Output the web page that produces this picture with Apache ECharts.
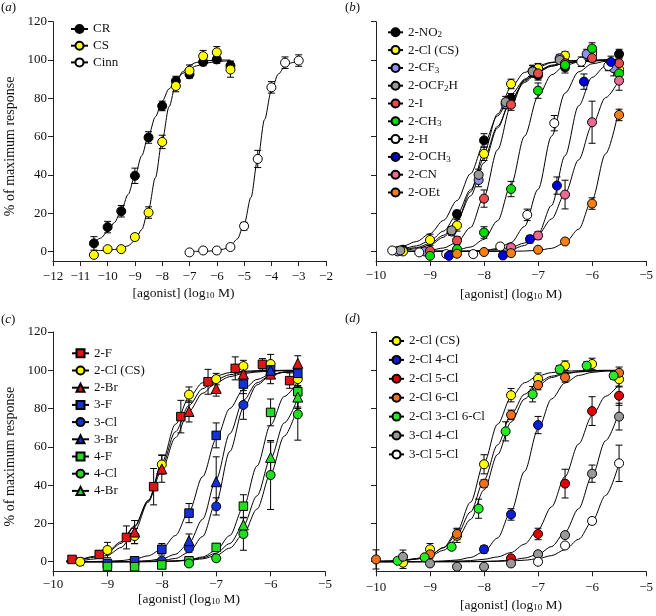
<!DOCTYPE html>
<html>
<head>
<meta charset="utf-8">
<script src="https://cdn.jsdelivr.net/npm/echarts@6/dist/echarts.min.js"></script>
<style>
  html, body { margin: 0; padding: 0; background: #fff; }
  #chart { width: 656px; height: 616px; }
</style>
</head>
<body>
<div id="chart"></div>
<script>
const FONT = '"Liberation Serif", "Times New Roman", serif';

// ---------- panel (a) ----------
const aX = [-10.5, -10, -9.5, -9, -8.5, -8, -7.5, -7, -6.5, -6, -5.5];
const crY = [4.2, 12.7, 21, 39.5, 59.5, 76, 89, 92.5, 99, 100.3, 97];
const crErr = [3.5, 3, 3, 4, 3, 2.5, 2.5, 2, 2, 2, 2.5];
const csY = [-1.8, 1.2, 1.2, 7.5, 20.3, 57.2, 86.4, 94.4, 102, 104, 95];
const csErr = [1, 1, 1, 1.5, 3, 3.5, 3, 3, 3, 3, 4];
const cinnX = [-7, -6.5, -6, -5.5, -5, -4.5, -4, -3.5, -3];
const cinnY = [-0.5, 0.5, 0.5, 2.3, 13.2, 48.3, 85.7, 98.6, 99.7];
const cinnErr = [1, 1, 1, 1, 2, 4.5, 3, 3, 3];

// fitted curves
const aFitX = [-10.5, -10.25, -10, -9.75, -9.5, -9.25, -9, -8.75, -8.5, -8.25, -8, -7.75, -7.5, -7.25, -7, -6.75, -6.5, -6.25, -6, -5.75, -5.5];
const crFit = [4.6, 7.0, 10.4, 15.1, 21.5, 29.7, 39.4, 50, 60.6, 70.3, 78.5, 84.9, 89.6, 93.0, 95.4, 96.9, 98.0, 98.7, 99.1, 99.4, 99.6];
const csFit = [0.5, 0.5, 0.7, 1.0, 1.6, 2.9, 5.7, 11.4, 22, 38.5, 58, 75.5, 87.4, 93.9, 97.2, 98.7, 99.4, 99.7, 99.9, 100, 100];
const cinnFitX = [-7, -6.75, -6.5, -6.25, -6, -5.75, -5.5, -5.25, -5, -4.75, -4.5, -4.25, -4, -3.75, -3.5, -3.25, -3];
const cinnFit = [0, 0.05, 0.1, 0.2, 0.5, 1.2, 2.9, 6.5, 14.2, 28.2, 48.3, 68.9, 84, 92.6, 96.7, 98.6, 99.4];

// ---------- panel (b) ----------
const bX = [-9.5, -9, -8.5, -8, -7.5, -7, -6.5, -6, -5.5];
const no2X = [-9.5, -8.5, -8, -7.5, -7, -6.5, -6, -5.5];
const no2Y = [0.9, 19.5, 58, 80, 92, 96.2, 104, 103.1];
const no2Err = [1.5, 2, 3.5, 2.5, 2.5, 3, 3, 2.5];
const clY = [0, 6, 13.6, 51, 87.5, 95.7, 102.3, 103.1, 95.1];
const clErr = [1, 3, 3, 3.5, 2.5, 2.5, 2, 3, 3];
const cf3X = [-9.6, -9.1, -8.6, -8.1, -7.6, -7.1, -6.6, -6.1, -5.6];
const cf3Y = [0, 0, 10.4, 37.3, 77, 94.3, 100.9, 103.1, 95.7];
const cf3Err = [1, 1, 2, 3.5, 2.5, 3, 2, 2.5, 4];
const ocf2hX = [-9.55, -8.6, -8.1, -7.6, -7.1, -6.6];
const ocf2hY = [0.5, 11, 40, 78, 94, 100];
const ocf2hErr = [1, 2, 3, 3, 3, 2];
const iX = [-9, -8.5, -8, -7.5, -7, -6.5, -6, -5.5];
const iY = [0.3, 5.7, 27.6, 76.7, 93, 98.3, 101, 98.3];
const iErr = [1, 2, 4.5, 3, 2.5, 2, 2, 3];
const ch3X = [-9, -8.5, -8, -7.5, -7, -6.5, -6, -5.5];
const ch3Y = [-2.3, 1.2, 9.9, 32.6, 84, 97.4, 106, 93];
const ch3Err = [1, 1.5, 3, 4, 4, 3, 3, 3];
const hX = [-9.7, -9.2, -8.7, -8.2, -7.7, -7.2, -6.7, -6.2, -5.7];
const hY = [0.5, -0.5, -1.4, -1.4, 2.6, 19.1, 67, 99.1, 96.9];
const hErr = [1, 1, 1, 1, 1.5, 3, 4, 2.5, 2.5];
const och3X = [-8.65, -7.65, -7.15, -6.65, -6.15, -5.65];
const och3Y = [-2.3, -2.1, 6.4, 34.4, 88.7, 99];
const och3Err = [1, 1, 2, 4.5, 4, 3];
const cnX = [-7.5, -7, -6.5, -6, -5.5];
const cnY = [2.1, 8.3, 29.7, 67.5, 89.2];
const cnErr = [1.5, 2, 7.5, 11, 5];
const oetX = [-8.5, -8, -7.5, -7, -6.5, -6, -5.5];
const oetY = [-1.2, -0.3, -0.9, 0.9, 5.2, 25, 71.3];
const oetErr = [0.5, 1, 1, 1, 1, 3, 3];

const bFitX = [-9.75, -9.5, -9.25, -9, -8.75, -8.5, -8.25, -8, -7.75, -7.5, -7.25, -7, -6.75, -6.5, -6.25, -6, -5.75, -5.5];
const no2Fit = [1.5, 2.8, 5.2, 9.3, 16.2, 26.6, 40.6, 56.3, 70.8, 82.0, 89.6, 94.2, 96.8, 98.3, 99.1, 99.5, 99.7, 99.9];
const clFit = [0.3, 0.6, 1.4, 3.3, 7.4, 16.0, 31.1, 51.7, 71.8, 85.8, 93.5, 97.1, 98.8, 99.5, 99.8, 99.9, 100, 100];
const cf3Fit = [0.5, 1.0, 2.0, 4.1, 8.4, 16.2, 29.0, 46.3, 64.5, 79.4, 89.0, 94.5, 97.3, 98.7, 99.4, 99.7, 99.9, 99.9];
const ocf2hFit = [0.7, 1.5, 2.9, 5.6, 10.6, 19.2, 32.2, 48.6, 65.4, 79.0, 88.3, 93.7, 96.8, 98.4, 99.2, 99.6, 99.8, 99.9];
const iFit = [0, 0.1, 0.2, 0.6, 1.8, 4.8, 12.5, 28.7, 53.1, 76.2, 90.0, 96.2, 98.6, 99.5, 99.8, 99.9, 100, 100];
const ch3Fit = [0, 0, 0, 0.1, 0.3, 0.8, 2.3, 6.3, 16.0, 34.9, 60.2, 81.0, 92.3, 97.1, 99.0, 99.6, 99.9, 100];
const hFit = [0, 0, 0, 0, 0, 0.1, 0.2, 0.5, 1.5, 4.6, 13.1, 32.4, 60.2, 82.7, 93.8, 98.0, 99.3, 99.8];
const och3Fit = [0, 0, 0, 0, 0, 0, 0, 0.1, 0.3, 1.0, 3.1, 9.1, 24.0, 50, 76.0, 90.9, 96.9, 99.0];
const cnFit = [0, 0, 0, 0, 0.1, 0.1, 0.2, 0.5, 1.0, 2.1, 4.4, 8.8, 17.0, 30.2, 47.8, 65.9, 80.3, 89.6];
const oetFit = [0, 0, 0, 0, 0, 0, 0, 0, 0, 0.1, 0.2, 0.6, 1.6, 4.5, 11.6, 27.0, 51.0, 74.6];

// ---------- panel (c) ----------
const fX = [-9.65, -9.15, -8.65, -8.15, -7.65, -7.15, -6.65, -6.15, -5.65];
const fY = [1.2, 3.8, 12.7, 39.2, 75.8, 94, 101, 103.1, 94.6];
const fErr = [1.5, 2, 6, 9.5, 8.5, 6.5, 6, 3, 4];
const cClY = [0, 6.1, 13.4, 50.8, 87.3, 95.4, 102.2, 103.3, 95.4];
const cClErr = [2, 4, 4, 5, 4, 3, 3, 5, 4];
const brX = [-8.5, -8, -7.5, -7, -6.5, -6, -5.5];
const brY = [15.5, 48.5, 78.5, 90.5, 98, 98, 103.6];
const brErr = [6, 7, 5.5, 4, 3, 5, 4];
const f3X = [-9, -8.5, -8, -7.5, -7, -6.5, -6, -5.5];
const f3Y = [-0.9, 0.5, 6.5, 25.4, 66, 92.8, 100.2, 98.4];
const f3Err = [2, 2, 3, 5, 6.5, 5, 3, 3];
const cl3X = [-8, -7.5, -7, -6.5];
const cl3Y = [0.5, 7, 28.9, 81.9];
const cl3Err = [1, 2, 4.5, 7.5];
const br3X = [-7.5, -7, -6];
const br3Y = [11, 41.8, 100];
const br3Err = [3.5, 13, 3];
const f4X = [-9, -8.5, -8, -7.5, -7, -6.5, -6, -5.5];
const f4Y = [-2.5, -2.6, -1.7, 0.5, 7.5, 29, 78, 88.8];
const f4Err = [1, 1, 1, 1.5, 2, 6, 7, 8];
const cl4X = [-7.5, -7, -6.5, -6, -5.5];
const cl4Y = [-0.9, 1.8, 14.5, 45.3, 77];
const cl4Err = [1, 1.5, 8.5, 18, 13.5];
const br4X = [-6.5, -6, -5.5];
const br4Y = [19.2, 54.5, 86];
const br4Err = [4, 8, 6];

const fFit = [0.5, 1.1, 2.3, 4.8, 9.6, 18.3, 32.1, 50, 67.9, 81.7, 90.4, 95.2, 97.7, 98.9, 99.5, 99.8, 99.9, 100];
const brFit = [0.7, 1.4, 2.8, 5.5, 10.4, 18.8, 31.6, 47.9, 64.8, 78.6, 88.0, 93.6, 96.7, 98.3, 99.1, 99.6, 99.8, 99.9];
const f3Fit = [0, 0.1, 0.1, 0.3, 0.6, 1.4, 3.1, 6.6, 13.7, 26.3, 44.4, 64.1, 80.0, 90.0, 95.2, 97.8, 99.0, 99.6];
const br3Fit = [0, 0, 0, 0, 0.1, 0.2, 0.6, 1.5, 3.9, 9.7, 22.2, 43.2, 66.9, 84.3, 93.5, 97.4, 99.0, 99.6];
const cl3Fit = [0, 0, 0, 0, 0, 0.1, 0.2, 0.6, 1.7, 4.9, 13.2, 31.3, 57.6, 80.2, 92.4, 97.3, 99.1, 99.7];
const f4Fit = [0, 0, 0, 0, 0, 0, 0.1, 0.2, 0.4, 1.0, 2.5, 5.9, 13.7, 28.5, 50, 71.5, 86.3, 94.1];
const br4Fit = [0, 0, 0, 0, 0, 0, 0.1, 0.2, 0.4, 0.9, 2.0, 4.5, 9.5, 19.0, 34.4, 54.0, 72.5, 85.5];
const cl4Fit = [0, 0, 0, 0, 0, 0, 0, 0.1, 0.3, 0.7, 1.5, 3.3, 7.1, 14.5, 27.5, 46.0, 65.6, 81.0];

// ---------- panel (d) ----------
const dClY = [-0.5, 6.5, 13.6, 50.9, 87, 95.6, 102.4, 103.3, 95.3];
const dClErr = [3, 3, 3.5, 5, 3.5, 3, 2.5, 3, 4];
const cl24X = [-8, -7.5, -7];
const cl24Y = [6.5, 24.7, 71.4];
const cl24Err = [2, 3, 4.5];
const cl25X = [-7.5, -7, -6.5, -6, -5.5];
const cl25Y = [1.8, 14.5, 40.8, 78.7, 86.7];
const cl25Err = [1, 3, 7.5, 7.5, 5];
const cl26X = [-10, -9, -8.5, -8, -7.5, -7, -6.5, -5.5];
const cl26Y = [1.2, 3.9, 14.5, 40.8, 76.7, 92.3, 96.3, 98.7];
const cl26Err = [5, 2, 3, 2, 2.5, 2.5, 2.5, 3];
const cl236X = [-9.6, -9.1, -8.6, -8.1, -7.6, -7.1, -6.6, -6.1, -5.6];
const cl236Y = [0.5, 2.3, 7.8, 27.7, 68.1, 87.5, 100.5, 102.4, 97.2];
const cl236Err = [1, 1, 1.5, 5, 5, 4, 2, 2, 2];
const cl34Y = [2.6, -0.9, -2.6, -2.6, -0.9, 3.9, 13.9, 46, 75.8];
const cl34Err = [3.5, 1, 1, 1, 1, 1, 1.5, 4.5, 7];
const cl35X = [-7, -6.5, -6, -5.5];
const cl35Y = [0, 8.5, 21.3, 51.4];
const cl35Err = [1, 1, 1.5, 9.5];

const dFitX = [-10, -9.75, -9.5, -9.25, -9, -8.75, -8.5, -8.25, -8, -7.75, -7.5, -7.25, -7, -6.75, -6.5, -6.25, -6, -5.75, -5.5];
const dClFit = [0.1, 0.3, 0.6, 1.4, 3.3, 7.4, 16.0, 31.1, 51.7, 71.8, 85.8, 93.5, 97.1, 98.8, 99.5, 99.8, 99.9, 100, 100];
const cl24Fit = [0, 0, 0, 0.1, 0.1, 0.4, 0.9, 2.2, 5.3, 12.4, 26.3, 47.2, 69.2, 85.0, 93.4, 97.3, 98.9, 99.6, 99.8];
const cl25Fit = [0, 0, 0, 0, 0.1, 0.2, 0.3, 0.6, 1.3, 2.5, 4.8, 9.2, 16.8, 28.7, 44.5, 61.5, 76.2, 86.4, 92.7];
const cl26Fit = [0.2, 0.4, 0.8, 1.7, 3.6, 7.3, 14.2, 26.0, 42.6, 61.0, 76.8, 87.5, 93.7, 96.9, 98.5, 99.3, 99.7, 99.8, 99.9];
const cl236Fit = [0.2, 0.3, 0.7, 1.4, 2.9, 6.0, 11.9, 22.1, 37.5, 56.0, 72.9, 85.0, 92.3, 96.2, 98.2, 99.1, 99.6, 99.8, 99.9];
const cl34Fit = [0, 0, 0, 0, 0, 0, 0, 0.1, 0.2, 0.4, 0.9, 1.9, 3.9, 7.9, 15.4, 27.7, 44.8, 63.2, 78.4];
const cl35Fit = [0, 0, 0, 0, 0, 0, 0, 0, 0.1, 0.2, 0.4, 0.8, 1.6, 3.2, 6.3, 11.7, 21.0, 34.6, 51.4];

const yTicks = [0, 20, 40, 60, 80, 100, 120];

// series definitions per panel
const panels = [
  [
    { name: 'CR', symbol: 'circle', color: '#000000', x: aX, y: crY, err: crErr, fitX: aFitX, fit: crFit },
    { name: 'CS', symbol: 'circle', color: '#ffff00', x: aX, y: csY, err: csErr, fitX: aFitX, fit: csFit },
    { name: 'Cinn', symbol: 'circle', color: '#ffffff', x: cinnX, y: cinnY, err: cinnErr, fitX: cinnFitX, fit: cinnFit }
  ],
  [
    { name: '2-NO{s|2}', symbol: 'circle', color: '#000000', x: no2X, y: no2Y, err: no2Err, fitX: bFitX, fit: no2Fit },
    { name: '2-Cl (CS)', symbol: 'circle', color: '#ffff00', x: bX, y: clY, err: clErr, fitX: bFitX, fit: clFit },
    { name: '2-CF{s|3}', symbol: 'circle', color: '#8f8fee', x: cf3X, y: cf3Y, err: cf3Err, fitX: bFitX, fit: cf3Fit },
    { name: '2-OCF{s|2}H', symbol: 'circle', color: '#999999', x: ocf2hX, y: ocf2hY, err: ocf2hErr, fitX: bFitX, fit: ocf2hFit },
    { name: '2-I', symbol: 'circle', color: '#e84c4c', x: iX, y: iY, err: iErr, fitX: bFitX, fit: iFit },
    { name: '2-CH{s|3}', symbol: 'circle', color: '#00dd00', x: ch3X, y: ch3Y, err: ch3Err, fitX: bFitX, fit: ch3Fit },
    { name: '2-H', symbol: 'circle', color: '#ffffff', x: hX, y: hY, err: hErr, fitX: bFitX, fit: hFit },
    { name: '2-OCH{s|3}', symbol: 'circle', color: '#0000dd', x: och3X, y: och3Y, err: och3Err, fitX: bFitX, fit: och3Fit },
    { name: '2-CN', symbol: 'circle', color: '#ea6a94', x: cnX, y: cnY, err: cnErr, fitX: bFitX, fit: cnFit },
    { name: '2-OEt', symbol: 'circle', color: '#f57f17', x: oetX, y: oetY, err: oetErr, fitX: bFitX, fit: oetFit }
  ],
  [
    { name: '2-F', symbol: 'rect', color: '#e01414', x: fX, y: fY, err: fErr, fitX: bFitX, fit: fFit },
    { name: '2-Cl (CS)', symbol: 'circle', color: '#ffff00', x: bX, y: cClY, err: cClErr, fitX: bFitX, fit: clFit },
    { name: '2-Br', symbol: 'triangle', color: '#e01414', x: brX, y: brY, err: brErr, fitX: bFitX, fit: brFit },
    { name: '3-F', symbol: 'rect', color: '#1432d2', x: f3X, y: f3Y, err: f3Err, fitX: bFitX, fit: f3Fit },
    { name: '3-Cl', symbol: 'circle', color: '#1432d2', x: cl3X, y: cl3Y, err: cl3Err, fitX: bFitX, fit: cl3Fit },
    { name: '3-Br', symbol: 'triangle', color: '#1432d2', x: br3X, y: br3Y, err: br3Err, fitX: bFitX, fit: br3Fit },
    { name: '4-F', symbol: 'rect', color: '#22dd22', x: f4X, y: f4Y, err: f4Err, fitX: bFitX, fit: f4Fit },
    { name: '4-Cl', symbol: 'circle', color: '#22dd22', x: cl4X, y: cl4Y, err: cl4Err, fitX: bFitX, fit: cl4Fit },
    { name: '4-Br', symbol: 'triangle', color: '#22dd22', x: br4X, y: br4Y, err: br4Err, fitX: bFitX, fit: br4Fit }
  ],
  [
    { name: '2-Cl (CS)', symbol: 'circle', color: '#ffff00', x: bX, y: dClY, err: dClErr, fitX: dFitX, fit: dClFit },
    { name: '2-Cl 4-Cl', symbol: 'circle', color: '#0a1ed8', x: cl24X, y: cl24Y, err: cl24Err, fitX: dFitX, fit: cl24Fit },
    { name: '2-Cl 5-Cl', symbol: 'circle', color: '#e00000', x: cl25X, y: cl25Y, err: cl25Err, fitX: dFitX, fit: cl25Fit },
    { name: '2-Cl 6-Cl', symbol: 'circle', color: '#f07020', x: cl26X, y: cl26Y, err: cl26Err, fitX: dFitX, fit: cl26Fit },
    { name: '2-Cl 3-Cl 6-Cl', symbol: 'circle', color: '#22ee22', x: cl236X, y: cl236Y, err: cl236Err, fitX: dFitX, fit: cl236Fit },
    { name: '3-Cl 4-Cl', symbol: 'circle', color: '#999999', x: bX, y: cl34Y, err: cl34Err, fitX: dFitX, fit: cl34Fit },
    { name: '3-Cl 5-Cl', symbol: 'circle', color: '#ffffff', x: cl35X, y: cl35Y, err: cl35Err, fitX: dFitX, fit: cl35Fit }
  ]
];

const subRich = { s: { fontFamily: FONT, fontSize: 9, lineHeight: 9, verticalAlign: 'bottom', color: '#111' } };

function fmtNeg(v) {
  return v < 0 ? '\u2212' + Math.abs(v) : String(v);
}

function errBar(params, api) {
  const x = api.value(0);
  const lo = api.coord([x, api.value(1)]);
  const hi = api.coord([x, api.value(2)]);
  const w = 3.5;
  const st = { stroke: '#000', lineWidth: 1 };
  return {
    type: 'group',
    children: [
      { type: 'line', shape: { x1: lo[0], y1: lo[1], x2: hi[0], y2: hi[1] }, style: st },
      { type: 'line', shape: { x1: hi[0] - w, y1: hi[1], x2: hi[0] + w, y2: hi[1] }, style: st },
      { type: 'line', shape: { x1: lo[0] - w, y1: lo[1], x2: lo[0] + w, y2: lo[1] }, style: st }
    ]
  };
}

const series = [];
panels.forEach((list, idx) => {
  list.forEach(s => {
    series.push({
      name: s.name, type: 'line', xAxisIndex: idx, yAxisIndex: idx,
      data: s.fitX.map((x, i) => [x, s.fit[i]]),
      symbol: s.symbol, symbolSize: 8, showSymbol: false,
      smooth: 0.3, smoothMonotone: 'x',
      lineStyle: { color: '#000', width: 1 },
      itemStyle: { color: s.color, borderColor: '#000', borderWidth: 1 },
      silent: true, z: 2
    });
  });
  list.forEach(s => {
    series.push({
      type: 'custom', xAxisIndex: idx, yAxisIndex: idx,
      data: s.x.map((x, i) => [x, s.y[i] - s.err[i], s.y[i] + s.err[i]]),
      encode: { x: 0, y: [1, 2] },
      renderItem: errBar, silent: true, z: 3
    });
  });
  list.forEach(s => {
    series.push({
      type: 'scatter', xAxisIndex: idx, yAxisIndex: idx,
      data: s.x.map((x, i) => [x, s.y[i]]),
      symbol: s.symbol,
      symbolSize: s.symbol === 'triangle' ? 10 : (s.symbol === 'rect' ? 8.5 : 9),
      itemStyle: { color: s.color, borderColor: '#000', borderWidth: 1, opacity: 1 },
      silent: true, z: 4
    });
  });
});

const grids = [
  { left: 53, top: 21.7, width: 273, height: 239.3 },
  { left: 376, top: 21.7, width: 272, height: 239.3 },
  { left: 53, top: 332, width: 272, height: 239.3 },
  { left: 376, top: 332, width: 272, height: 239.3 }
];

const xRanges = [[-12, -2], [-10, -5], [-10, -5], [-10, -5]];
const xMargins = [9, 8, 7, 10];
const xNameGaps = [25, 26, 15, 27];

const xAxes = xRanges.map((r, i) => ({
  gridIndex: i, type: 'value', min: r[0], max: r[1], interval: 1,
  axisLine: { onZero: false, lineStyle: { color: '#222', width: 1 } },
  axisTick: { length: 5, lineStyle: { color: '#222' } },
  axisLabel: { margin: xMargins[i], fontFamily: FONT, fontSize: 13, color: '#111', formatter: fmtNeg },
  splitLine: { show: false },
  name: '[agonist] (log{s|10} M)', nameLocation: 'middle', nameGap: xNameGaps[i],
  nameTextStyle: {
    fontFamily: FONT, fontSize: 13.5, color: '#111', lineHeight: 14,
    padding: i === 0 ? [0, 12, 0, 0] : 0,
    rich: subRich
  }
}));

const yAxes = [0, 1, 2, 3].map(i => ({
  gridIndex: i, type: 'value', min: -5, max: 120,
  axisLine: { onZero: false, lineStyle: { color: '#222', width: 1 } },
  axisTick: { length: 5, customValues: yTicks, lineStyle: { color: '#222' } },
  axisLabel: { show: i % 2 === 0, customValues: yTicks, margin: 6, fontFamily: FONT, fontSize: 13, color: '#111' },
  splitLine: { show: false },
  name: i % 2 === 0 ? '% of maximum response' : '',
  nameLocation: 'middle', nameGap: 36,
  nameTextStyle: { fontFamily: FONT, fontSize: 14, color: '#111', padding: [0, 10, 0, 0] }
}));

const legendPos = [
  { left: 70, top: 22, itemWidth: 17, itemGap: 2.7 },
  { left: 387, top: 25.3, itemWidth: 15, itemGap: 3.8 },
  { left: 71, top: 346.3, itemWidth: 17, itemGap: 3.2 },
  { left: 388, top: 334, itemWidth: 15, itemGap: 4.9 }
];

const legends = panels.map((list, i) => ({
  data: list.map(s => s.name),
  orient: 'vertical', left: legendPos[i].left, top: legendPos[i].top,
  itemWidth: legendPos[i].itemWidth, itemHeight: 10, itemGap: legendPos[i].itemGap,
  padding: 0, selectedMode: false,
  textStyle: { fontFamily: FONT, fontSize: 13, color: '#111', lineHeight: 14, rich: subRich }
}));

const titleRich = { i: { fontFamily: FONT, fontSize: 13, fontStyle: 'italic', color: '#111' } };
const titles = [['a', 1, 1], ['b', 345, 1], ['c', 1, 313], ['d', 345, 312]].map(t => ({
  text: '({i|' + t[0] + '})', left: t[1], top: t[2], padding: 0,
  textStyle: { fontFamily: FONT, fontSize: 13, fontWeight: 'normal', color: '#111', rich: titleRich }
}));

const chart = echarts.init(document.getElementById('chart'), null, { renderer: 'canvas' });
chart.setOption({
  animation: false,
  backgroundColor: '#fff',
  title: titles,
  legend: legends,
  grid: grids,
  xAxis: xAxes,
  yAxis: yAxes,
  series: series
});
</script>
</body>
</html>
